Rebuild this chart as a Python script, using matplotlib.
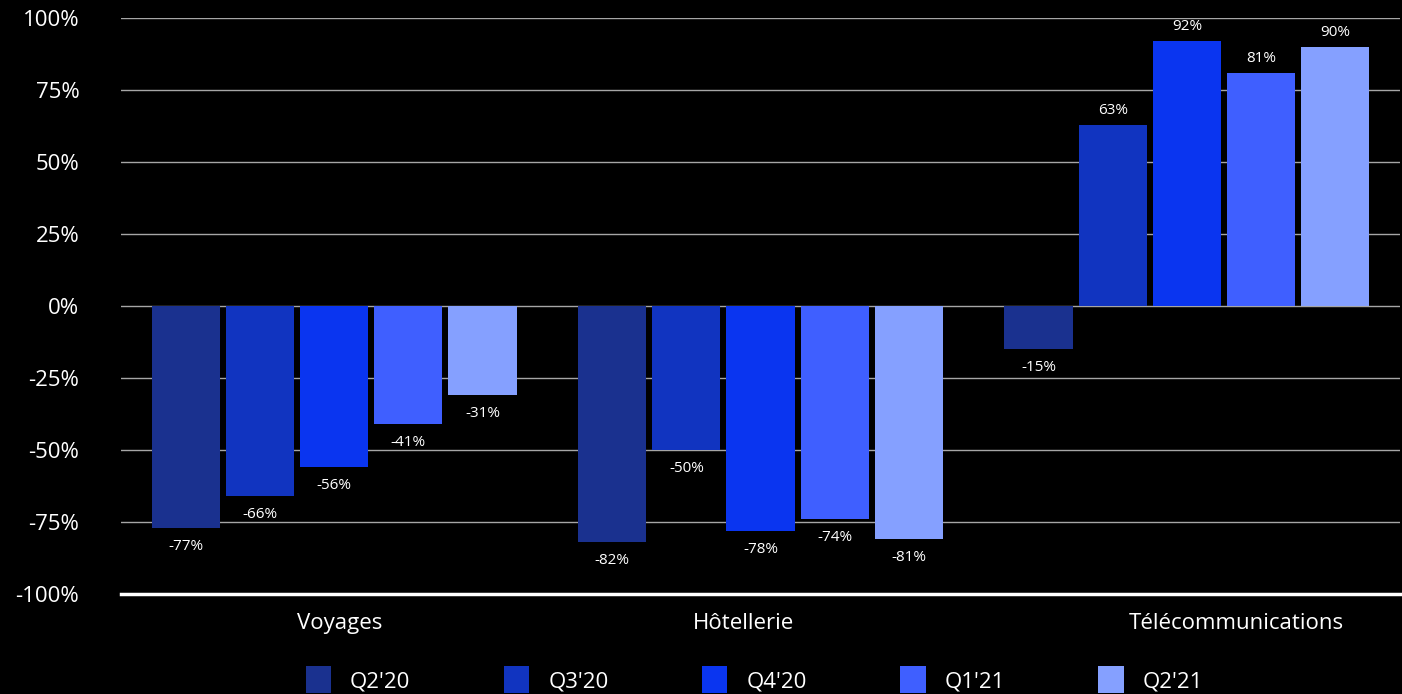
import numpy as np
import matplotlib.pyplot as plt
from matplotlib.patches import Patch

# données
categories = ['Voyages', 'Hôtellerie', 'Télécommunications']
quarters = ["Q2'20", "Q3'20", "Q4'20", "Q1'21", "Q2'21"]
values = {
    "Q2'20": [-77, -82, -15],
    "Q3'20": [-66, -50, 63],
    "Q4'20": [-56, -78, 92],
    "Q1'21": [-41, -74, 81],
    "Q2'21": [-31, -81, 90],
}
colors = ['#1a318f', '#1134c0', '#0a35f0', '#3f5fff', '#85a0ff']
yticks = [-100, -75, -50, -25, 0, 25, 50, 75, 100]

plt.rcParams['font.family'] = ['Open Sans', 'DejaVu Sans']

fig = plt.figure(figsize=(14.02, 6.94), dpi=100, facecolor='black')
ax = fig.add_axes([0.0863, 0.1441, 0.9123, 0.8299])
ax.set_facecolor('black')

x = np.arange(len(categories))
pitch = 0.174
width = 0.16

for i, q in enumerate(quarters):
    xs = x + (i - 2) * pitch
    bars = ax.bar(xs, values[q], width=width, color=colors[i], zorder=3)
    for b, v in zip(bars, values[q]):
        if v >= 0:
            ax.annotate(f'{v}%', (b.get_x() + b.get_width() / 2, v),
                        xytext=(0, 5), textcoords='offset points',
                        ha='center', va='bottom', color='white', fontsize=11)
        else:
            ax.annotate(f'{v}%', (b.get_x() + b.get_width() / 2, v),
                        xytext=(0, -8), textcoords='offset points',
                        ha='center', va='top', color='white', fontsize=11)

ax.set_xlim(-0.5, 2.5)
ax.set_ylim(-100, 100)
ax.set_yticks(yticks)
ax.set_yticklabels([f'{t}%' for t in yticks], color='white', fontsize=16)
ax.tick_params(axis='y', length=0, pad=30)
ax.tick_params(axis='x', length=0)
ax.set_xticks([])

for t in yticks[1:]:
    ax.axhline(t, color='#a6a6a6', linewidth=1, zorder=1)
# ligne de base blanche, plus épaisse
ax.axhline(-100, color='white', linewidth=2.5, zorder=4, clip_on=False)

for s in ax.spines.values():
    s.set_visible(False)

# étiquettes des catégories (légèrement décalées comme l'original)
label_offsets = [0.014, -0.04, 0.115]
for xi, cat, off in zip(x, categories, label_offsets):
    ax.text(xi + off, -106.5, cat, ha='center', va='top', color='white',
            fontsize=16, transform=ax.transData, clip_on=False)

handles = [Patch(facecolor=c, edgecolor='none') for c in colors]
fig.legend(handles, quarters, loc='upper center', bbox_to_anchor=(0.538, 0.040),
           ncol=5, frameon=False, fontsize=16, labelcolor='white',
           handlelength=1.15, handleheight=1.5, handletextpad=0.85,
           columnspacing=4.2, borderpad=0, borderaxespad=0)

fig.savefig('out.png', dpi=100, facecolor='black')
